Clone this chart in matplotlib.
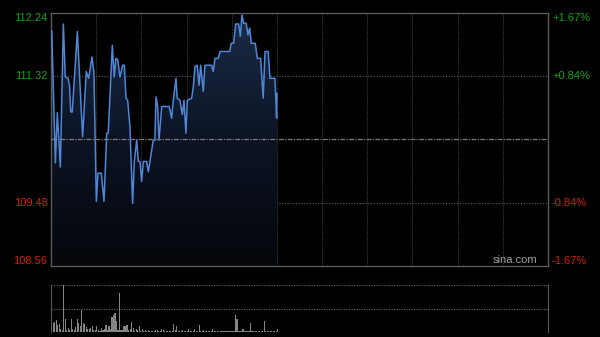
import numpy as np
import matplotlib
matplotlib.use('Agg')
import matplotlib.pyplot as plt
from matplotlib.colors import LinearSegmentedColormap
from matplotlib.patches import Polygon

plt.rcParams['font.family'] = ['Liberation Sans', 'DejaVu Sans']

# Price path (minutes after 9:30, price)
minutes = [0.5, 2.9, 4.2, 6.2, 8.2, 9.5, 11.3, 12.3, 13.1, 14.1, 17.5, 19.0, 21.0, 23.4,
           25.0, 27.2, 28.5, 30.1, 31.2, 33.4, 35.2, 37.0, 38.0, 40.7, 42.0, 43.1, 44.3,
           45.8, 47.6, 48.7, 49.8, 50.9, 52.4, 54.2, 55.3, 56.9, 58.0, 59.1, 60.2, 61.3,
           63.5, 64.6, 65.7, 67.9, 69.0, 69.7, 70.8, 71.7, 73.5, 78.5, 80.1, 81.2, 83.0,
           83.8, 85.6, 87.2, 88.3, 89.6, 90.5, 93.4, 94.5, 95.6, 97.1, 98.3, 99.4, 101.1,
           102.2, 106.7, 107.7, 108.9, 111.1, 112.2, 118.6, 119.7, 121.3, 122.6, 124.6,
           125.7, 126.8, 127.9, 129.6, 130.8, 131.9, 133.0, 135.6, 137.0, 139.2, 140.9,
           142.1, 144.2, 145.4, 148.7, 149.8, 150.0]
prices = [111.98, 110.06, 110.79, 110.00, 112.08, 111.31, 111.29, 111.19, 110.80, 110.80,
          111.97, 111.31, 110.44, 111.39, 111.29, 111.60, 111.37, 109.50, 109.91, 109.91,
          109.50, 110.49, 110.49, 111.77, 111.31, 111.58, 111.56, 111.31, 111.48, 111.48,
          111.00, 110.97, 110.59, 109.47, 110.08, 110.39, 110.08, 110.08, 109.79, 110.08,
          110.08, 109.93, 110.08, 110.39, 110.39, 111.02, 110.88, 110.39, 110.88, 110.88,
          110.71, 110.97, 111.29, 111.00, 110.97, 110.76, 110.97, 110.49, 110.97, 111.00,
          111.17, 111.46, 111.48, 111.19, 111.48, 111.10, 111.48, 111.48, 111.39, 111.58,
          111.58, 111.68, 111.68, 111.80, 111.80, 112.08, 112.08, 111.90, 112.21, 112.09,
          112.09, 111.92, 112.02, 111.80, 111.80, 111.58, 111.58, 111.00, 111.68, 111.68,
          111.29, 111.29, 110.71, 111.07]

# per-minute volume (relative units), morning session
volumes = [65, 19, 22, 26, 15, 18, 6, 4, 100, 28, 5, 8, 4, 27, 6, 5, 10, 27, 19, 12,
           46, 19, 18, 10, 6, 6, 8, 13, 5, 4, 13, 5, 3, 8, 4, 6, 15, 5, 13, 6,
           32, 37, 40, 23, 5, 84, 5, 4, 12, 13, 15, 4, 6, 22, 8, 3, 6, 4, 12, 3,
           7, 2, 4, 3, 4, 2, 3, 3, 2, 4, 4, 2, 3, 6, 5, 2, 3, 2, 2, 2,
           3, 18, 4, 12, 2, 3, 2, 5, 2, 3, 2, 6, 2, 3, 2, 6, 3, 2, 15, 3,
           2, 5, 2, 3, 2, 2, 3, 6, 2, 3, 2, 2, 2, 3, 2, 2, 2, 3, 2, 2,
           3, 2, 37, 27, 3, 2, 3, 6, 2, 3, 2, 2, 20, 3, 2, 2, 2, 3, 2, 2,
           3, 23, 3, 3, 2, 2, 3, 2, 2, 3, 6]

prev_close = 110.40
y_ticks = [112.24, 111.32, 109.48, 108.56]
pct_labels = ['+1.67%', '+0.84%', '-0.84%', '-1.67%']
ymin, ymax = 108.56, 112.24
session_len = 330

fig = plt.figure(figsize=(6, 3.37), dpi=100, facecolor='black')
ax = fig.add_axes([51/600, 1-266/337, 497/600, 253/337])
vax = fig.add_axes([51/600, 1-332/337, 497/600, 47/337])

# ---- price panel
ax.set_facecolor('black')
for s in ax.spines.values():
    s.set_color('#5a5a5a')
    s.set_linewidth(1)

for t in range(30, session_len, 30):
    ax.axvline(t, color='#3a3a3a', lw=0.8, ls=(0, (1, 1)), zorder=0)
for y in [109.48, 111.32]:
    ax.axhline(y, color='#5a5a5a', lw=0.8, ls=(0, (1, 1.5)), zorder=0)
ax.axhline(prev_close, color='#7a7a7a', lw=0.9, ls=(0, (4, 1, 1, 1)), zorder=3)

# gradient fill under the line
cmap = LinearSegmentedColormap.from_list('fill', ['#04060a', '#0c1424', '#1b2b48'])
grad = np.linspace(0, 1, 256).reshape(-1, 1)
img = ax.imshow(grad, extent=[0, session_len, ymin, ymax], origin='lower',
                aspect='auto', cmap=cmap, zorder=1)
verts = [(minutes[0], ymin)] + list(zip(minutes, prices)) + [(minutes[-1], ymin)]
clip = Polygon(verts, closed=True, facecolor='none', edgecolor='none')
ax.add_patch(clip)
img.set_clip_path(clip)

ax.plot(minutes, prices, color='#4f86d6', lw=1.1, zorder=4)

ax.set_xlim(0, session_len)
ax.set_ylim(ymin, ymax)
ax.set_xticks([])
ax.set_yticks([])

green, red = '#13a313', '#d81e06'
vas = ['top', 'center', 'center', 'bottom']
for y, lab, va in zip(y_ticks, pct_labels, vas):
    c = green if y > prev_close else red
    ax.text(-0.007, y, f'{y:.2f}', transform=ax.get_yaxis_transform(),
            ha='right', va=va, color=c, fontsize=8)
    ax.text(1.008, y, lab, transform=ax.get_yaxis_transform(),
            ha='left', va=va, color=c, fontsize=8)

ax.text(0.978, 0.004, 'sina.com', transform=ax.transAxes, ha='right', va='bottom',
        color='#a0a0a0', fontsize=8)

# ---- volume panel
vax.set_facecolor('black')
vax.bar(np.arange(len(volumes)) + 0.5, volumes, width=0.75, color='#848484', linewidth=0)
for y in [0, 50, 100]:
    vax.axhline(y, color='#5a5a5a', lw=0.9, ls=(0, (1, 1)), zorder=0)
vax.spines['top'].set_visible(False)
vax.spines['bottom'].set_visible(False)
vax.spines['left'].set_color('#5a5a5a')
vax.spines['right'].set_color('#5a5a5a')
vax.set_xlim(0, session_len)
vax.set_ylim(0, 100)
vax.set_xticks([])
vax.set_yticks([])

fig.savefig('out.png', dpi=100, facecolor='black')
